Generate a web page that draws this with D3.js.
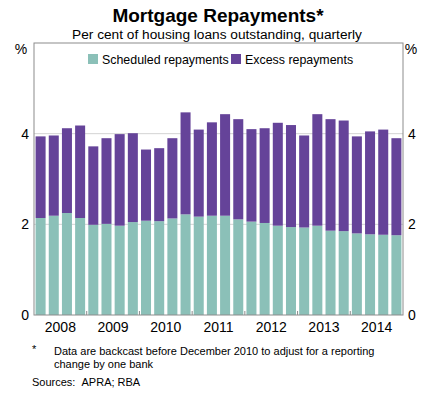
<!DOCTYPE html>
<html>
<head>
<meta charset="utf-8">
<script src="https://cdn.jsdelivr.net/npm/d3@7"></script>
<style>
  body { margin: 0; background: #fff; }
  text { font-family: "Liberation Sans", Arial, sans-serif; fill: #000; }
</style>
</head>
<body>
<div id="holder"></div>
<script>
// quarterly, Mar 2008 .. Dec 2014
var years = [2008, 2009, 2010, 2011, 2012, 2013, 2014];
var quarters = ["Mar", "Jun", "Sep", "Dec"];
var scheduled = [2.14, 2.19, 2.25, 2.14, 1.99, 2.01, 1.97, 2.05, 2.08, 2.07, 2.13, 2.22, 2.17, 2.19,
                 2.19, 2.11, 2.06, 2.03, 1.97, 1.94, 1.93, 1.97, 1.86, 1.85, 1.80, 1.78, 1.77, 1.76];
var excess = [1.80, 1.77, 1.87, 2.04, 1.73, 1.89, 2.02, 1.96, 1.57, 1.61, 1.77, 2.25, 1.92, 2.06,
              2.24, 2.21, 2.04, 2.09, 2.27, 2.25, 2.03, 2.46, 2.46, 2.44, 2.14, 2.27, 2.32, 2.14];
var yTicks = [0, 2, 4];
var seriesNames = ["Scheduled repayments", "Excess repayments"];
var colors = ["#8bc0b8", "#654399"];

var periods = [];
years.forEach(function(y) { quarters.forEach(function(q) { periods.push(q + " " + y); }); });
var rows = periods.map(function(p, i) { return { period: p, scheduled: scheduled[i], excess: excess[i] }; });

var W = 430, H = 393;
var plotL = 34, plotR = 403, plotT = 43, plotB = 315;

let svg = d3.select('#holder').append('svg').attr('width', W).attr('height', H);

var x = d3.scaleBand().domain(periods).range([plotL, plotR]).paddingInner(0.24).paddingOuter(0.12);
var xYear = d3.scaleBand().domain(years).range([plotL, plotR]);
var y = d3.scaleLinear().domain([0, 6]).range([plotB, plotT]);

// gridlines
svg.append('g').selectAll('line').data(yTicks.filter(function(d) { return d > 0; })).enter().append('line')
  .attr('x1', plotL).attr('x2', plotR)
  .attr('y1', function(d) { return y(d); }).attr('y2', function(d) { return y(d); })
  .style('stroke', '#d4d4d4').style('stroke-width', 1);

// stacked bars
var stack = d3.stack().keys(["scheduled", "excess"])(rows);
svg.append('g').selectAll('g').data(stack).enter().append('g')
  .style('fill', function(d, i) { return colors[i]; })
  .selectAll('rect').data(function(d) { return d; }).enter().append('rect')
  .attr('x', function(d) { return x(d.data.period); })
  .attr('width', x.bandwidth())
  .attr('y', function(d) { return y(d[1]); })
  .attr('height', function(d) { return y(d[0]) - y(d[1]); });

// frame
svg.append('rect').attr('x', plotL).attr('y', plotT).attr('width', plotR - plotL).attr('height', plotB - plotT)
  .style('fill', 'none').style('stroke', '#8c8c8c').style('stroke-width', 1);

// year ticks (inside, at year boundaries)
svg.append('g').selectAll('line').data(years.slice(1)).enter().append('line')
  .attr('x1', function(d) { return xYear(d); }).attr('x2', function(d) { return xYear(d); })
  .attr('y1', plotB).attr('y2', plotB - 4)
  .style('stroke', '#8c8c8c').style('stroke-width', 1);

// axes
var fmt = d3.format('d');
var yl = d3.axisLeft(y).tickValues(yTicks).tickFormat(fmt).tickSize(0).tickPadding(5);
var yr = d3.axisRight(y).tickValues(yTicks).tickFormat(fmt).tickSize(0).tickPadding(5);
var gl = svg.append('g').attr('transform', 'translate(' + plotL + ',0)').call(yl);
var gr = svg.append('g').attr('transform', 'translate(' + plotR + ',0)').call(yr);
var xa = d3.axisBottom(xYear).tickSize(0).tickPadding(7);
var gx = svg.append('g').attr('transform', 'translate(0,' + plotB + ')').call(xa);
[gl, gr, gx].forEach(function(g) {
  g.select('.domain').remove();
  g.selectAll('text').style('font-size', '14px').style('font-family', '"Liberation Sans", Arial, sans-serif').style('fill', '#000');
});
gx.selectAll('text').attr('dy', '0.71em');

svg.append('text').attr('x', 21).attr('y', 54).attr('text-anchor', 'middle').style('font-size', '14px').text('%');
svg.append('text').attr('x', 411).attr('y', 54).attr('text-anchor', 'middle').style('font-size', '14px').text('%');

// titles
svg.append('text').attr('x', 218).attr('y', 22).attr('text-anchor', 'middle')
  .style('font-size', '19px').style('font-weight', 'bold').text('Mortgage Repayments*');
svg.append('text').attr('x', 217).attr('y', 39).attr('text-anchor', 'middle')
  .style('font-size', '13.7px').text('Per cent of housing loans outstanding, quarterly');

// legend
var legendX = [88, 231];
var lg = svg.append('g').selectAll('g').data(seriesNames).enter().append('g')
  .attr('transform', function(d, i) { return 'translate(' + legendX[i] + ',54)'; });
lg.append('rect').attr('width', 10).attr('height', 10).style('fill', function(d, i) { return colors[i]; });
lg.append('text').attr('x', 14).attr('y', 9.5).style('font-size', '12.4px').text(function(d) { return d; });

// notes
var notes = svg.append('g').style('font-size', '11px');
notes.append('text').attr('x', 32).attr('y', 353).text('*');
notes.append('text').attr('x', 54).attr('y', 355).text('Data are backcast before December 2010 to adjust for a reporting');
notes.append('text').attr('x', 54).attr('y', 368).text('change by one bank');
notes.append('text').attr('x', 32).attr('y', 386).text('Sources:\u00a0\u00a0APRA; RBA');
</script>
</body>
</html>
